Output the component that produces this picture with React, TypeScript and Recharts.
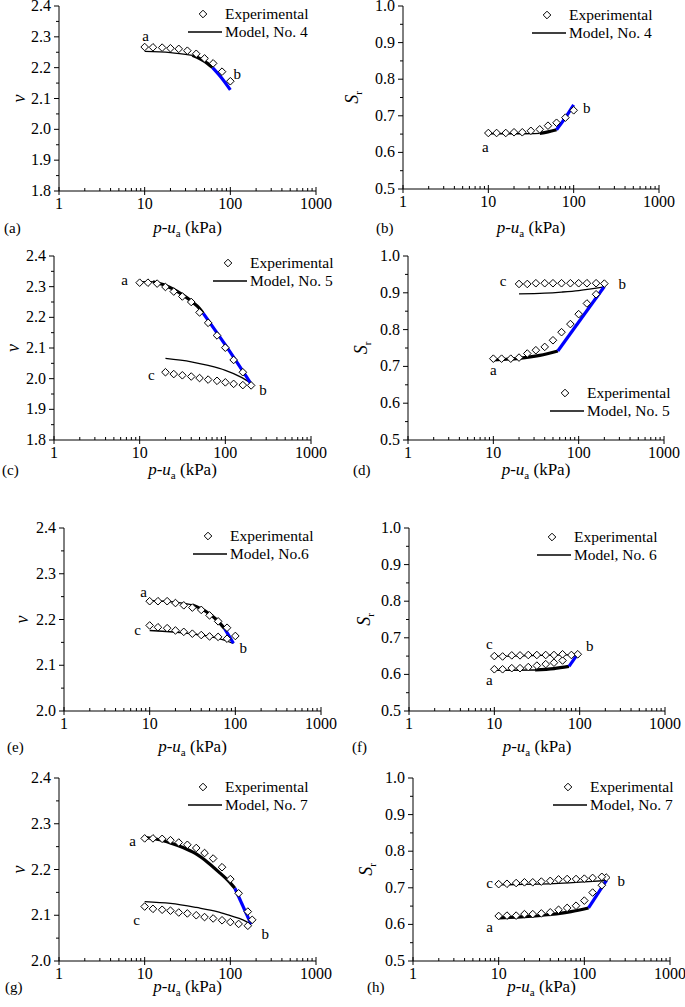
import React from 'react'
import { ComposedChart, Scatter, Line, XAxis, YAxis, Legend } from 'recharts'

const FONT = "'Times New Roman', 'Liberation Serif', Tinos, 'DejaVu Serif', serif"
const BLUE = '#0000ff'
const YW = 40
const XH = 20

// applied net stress levels (kPa)
const P_A = [10, 12.5, 16, 20, 25, 31.5, 40, 50, 63, 80, 100]
const P_C = [10, 12.5, 16, 20, 25, 31.5, 40, 50, 63, 80, 100, 125, 160, 200]
const P_C_UNL = [20, 25, 31.5, 40, 50, 63, 80, 100, 125, 160]
const P_E_UNL = [10, 12.5, 16, 20, 25, 31.5, 40, 50, 63, 80]
const P_F_LOAD = [10, 12.5, 16, 20, 25, 31.5, 40, 50, 63]
const P_F_UNL = [10, 12.5, 16, 20, 25, 31.5, 40, 50, 63, 80, 95]
const P_G_LOAD = [10, 12.5, 16, 20, 25, 31.5, 40, 50, 63, 80, 100, 125, 160, 180]
const P_G_UNL = [10, 12.5, 16, 20, 25, 31.5, 40, 50, 63, 80, 100, 125, 160]

// (a) No. 4, specific volume
const aExp = [2.267, 2.266, 2.265, 2.263, 2.261, 2.255, 2.245, 2.23, 2.214, 2.187, 2.156]
const aThin = [[10, 2.253], [20, 2.249], [36, 2.24]]
const aThick = [[36, 2.24], [45, 2.228], [54, 2.214], [62, 2.2]]
const aBlue = [[62, 2.2], [80, 2.165], [100, 2.128]]

// (b) No. 4, degree of saturation
const bExp = [0.653, 0.653, 0.653, 0.655, 0.655, 0.659, 0.663, 0.673, 0.681, 0.695, 0.715]
const bThin = [[10, 0.651], [25, 0.651], [40, 0.652]]
const bThick = [[40, 0.652], [50, 0.656], [63, 0.662]]
const bBlue = [[63, 0.662], [80, 0.695], [100, 0.73]]

// (c) No. 5, specific volume
const cExpLoad = [2.313, 2.313, 2.31, 2.299, 2.284, 2.268, 2.25, 2.216, 2.182, 2.141, 2.101, 2.061, 2.021, 1.978]
const cExpUnl = [2.021, 2.015, 2.011, 2.007, 2.002, 1.997, 1.993, 1.988, 1.983, 1.979]
const cThin = [[10, 2.316], [14.3, 2.316]]
const cThick = [[14.3, 2.316], [20, 2.304], [25, 2.291], [31.5, 2.274], [40, 2.253], [50, 2.229], [55.3, 2.213]]
const cBlue = [[55.3, 2.213], [100, 2.11], [200, 1.983]]
const cUnl = [[20, 2.066], [40, 2.055], [63, 2.043], [100, 2.027], [150, 2.006], [200, 1.985]]

// (d) No. 5, degree of saturation
const dExpLoad = [0.721, 0.721, 0.721, 0.724, 0.735, 0.744, 0.753, 0.771, 0.793, 0.815, 0.842, 0.871, 0.896, 0.925]
const dExpUnl = [0.924, 0.924, 0.926, 0.926, 0.926, 0.926, 0.926, 0.926, 0.926, 0.926]
const dThick = [[10, 0.718], [20, 0.722], [35, 0.73], [57, 0.742]]
const dBlue = [[57, 0.742], [200, 0.917]]
const dUnl = [[20, 0.897], [40, 0.899], [63, 0.902], [100, 0.906], [200, 0.916]]

// (e) No. 6, specific volume
const eExpLoad = [2.24, 2.24, 2.24, 2.236, 2.231, 2.226, 2.221, 2.209, 2.196, 2.182, 2.164]
const eExpUnl = [2.187, 2.183, 2.181, 2.176, 2.173, 2.169, 2.166, 2.163, 2.162, 2.158]
const eThin = [[10, 2.241], [20, 2.238], [31.5, 2.232]]
const eThick = [[31.5, 2.232], [45, 2.218], [60, 2.2], [75, 2.18]]
const eBlue = [[75, 2.18], [95, 2.148]]
const eUnl = [[10, 2.176], [30, 2.169], [60, 2.16], [95, 2.148]]

// (f) No. 6, degree of saturation
const fExpLoad = [0.614, 0.614, 0.617, 0.617, 0.62, 0.624, 0.628, 0.632, 0.638]
const fExpUnl = [0.65, 0.649, 0.652, 0.652, 0.653, 0.653, 0.653, 0.653, 0.655, 0.653, 0.655]
const fThin = [[10, 0.611], [30, 0.612]]
const fThick = [[30, 0.612], [50, 0.616], [75, 0.622]]
const fBlue = [[75, 0.622], [95, 0.656]]
const fUnl = [[10, 0.649], [95, 0.654]]

// (g) No. 7, specific volume
const gExpLoad = [2.268, 2.268, 2.267, 2.264, 2.259, 2.254, 2.247, 2.236, 2.224, 2.205, 2.179, 2.148, 2.108, 2.09]
const gExpUnl = [2.119, 2.114, 2.112, 2.11, 2.106, 2.104, 2.1, 2.096, 2.093, 2.089, 2.085, 2.081, 2.077]
const gThick = [[10, 2.27], [15, 2.265], [20, 2.258], [28, 2.248], [39, 2.235], [55, 2.215], [76, 2.192], [95, 2.175], [113, 2.159]]
const gBlue = [[113, 2.159], [175, 2.08]]
const gUnl = [[10, 2.13], [20, 2.126], [40, 2.117], [70, 2.108], [100, 2.099], [140, 2.09], [175, 2.08]]

// (h) No. 7, degree of saturation
const hExpLoad = [0.623, 0.624, 0.624, 0.628, 0.628, 0.63, 0.633, 0.64, 0.645, 0.651, 0.665, 0.687, 0.707, 0.728]
const hExpUnl = [0.71, 0.711, 0.713, 0.715, 0.715, 0.717, 0.719, 0.723, 0.724, 0.724, 0.725, 0.727, 0.73]
const hThick = [[10, 0.618], [20, 0.621], [40, 0.627], [70, 0.635], [112, 0.645]]
const hBlue = [[112, 0.645], [182, 0.721]]
const hUnl = [[10, 0.708], [50, 0.712], [100, 0.716], [182, 0.72]]

const X_MAJOR = [1, 10, 100, 1000]
const X_TICKS = [1, 2, 3, 4, 5, 6, 7, 8, 9, 10, 20, 30, 40, 50, 60, 70, 80, 90, 100, 200, 300, 400, 500, 600, 700, 800, 900, 1000]
const V_TICKS_WIDE = [1.8, 1.9, 2.0, 2.1, 2.2, 2.3, 2.4]
const V_TICKS_NARROW = [2.0, 2.1, 2.2, 2.3, 2.4]
const S_TICKS = [0.5, 0.6, 0.7, 0.8, 0.9, 1.0]

const xy = (xs: number[], ys: number[]) => xs.map((x, i) => ({ x, y: ys[i] }))
const pairs = (p: number[][]) => p.map(([x, y]) => ({ x, y }))

const PANELS = [
  {
    id: 'a', cell: { x: 0, y: 0, w: 340, h: 240 }, plot: { x: 59, y: 6, w: 257, h: 185 },
    yTicks: V_TICKS_WIDE, yTitle: 'v', yTitleX: 20, xTitleY: 228, letterX: 4,
    legend: { x: 188, y: 5, text: 'Model, No. 4' },
    exp: [xy(P_A, aExp)], thin: [aThin], thick: [aThick], blue: [aBlue],
    notes: [{ t: 'a', x: 10, y: 2.267, dx: 1, dy: -11 }, { t: 'b', x: 100, y: 2.156, dx: 7, dy: -7 }],
  },
  {
    id: 'b', cell: { x: 340, y: 0, w: 345, h: 240 }, plot: { x: 403, y: 6, w: 256, h: 183 },
    yTicks: S_TICKS, yTitle: 'S', yTitleX: 353, xTitleY: 228, letterX: 376,
    legend: { x: 532, y: 6, text: 'Model, No. 4' },
    exp: [xy(P_A, bExp)], thin: [bThin], thick: [bThick], blue: [bBlue],
    notes: [{ t: 'a', x: 10, y: 0.653, dx: -3, dy: 14 }, { t: 'b', x: 100, y: 0.715, dx: 13, dy: -2 }],
  },
  {
    id: 'c', cell: { x: 0, y: 240, w: 340, h: 245 }, plot: { x: 54, y: 256, w: 257, h: 184 },
    yTicks: V_TICKS_WIDE, yTitle: 'v', yTitleX: 14, xTitleY: 470, letterX: 2,
    legend: { x: 213, y: 254, text: 'Model, No. 5' },
    exp: [xy(P_C, cExpLoad), xy(P_C_UNL, cExpUnl)], thin: [cThin, cUnl], thick: [cThick], blue: [cBlue],
    notes: [
      { t: 'a', x: 10, y: 2.313, dx: -15, dy: -3 },
      { t: 'b', x: 200, y: 1.978, dx: 12, dy: 5 },
      { t: 'c', x: 20, y: 2.021, dx: -14, dy: 3 },
    ],
  },
  {
    id: 'd', cell: { x: 340, y: 240, w: 345, h: 245 }, plot: { x: 408, y: 256, w: 256, h: 184 },
    yTicks: S_TICKS, yTitle: 'S', yTitleX: 362, xTitleY: 470, letterX: 353,
    legend: { x: 550, y: 384, text: 'Model, No. 5' },
    exp: [xy(P_C, dExpLoad), xy(P_C_UNL, dExpUnl)], thin: [dUnl], thick: [dThick], blue: [dBlue],
    notes: [
      { t: 'a', x: 10, y: 0.721, dx: 0, dy: 11 },
      { t: 'b', x: 200, y: 0.925, dx: 18, dy: 0 },
      { t: 'c', x: 20, y: 0.924, dx: -16, dy: -3 },
    ],
  },
  {
    id: 'e', cell: { x: 0, y: 485, w: 340, h: 280 }, plot: { x: 64, y: 528, w: 257, h: 183 },
    yTicks: V_TICKS_NARROW, yTitle: 'v', yTitleX: 23, xTitleY: 747, letterX: 7,
    legend: { x: 193, y: 527, text: 'Model, No.6' },
    exp: [xy(P_A, eExpLoad), xy(P_E_UNL, eExpUnl)], thin: [eThin, eUnl], thick: [eThick], blue: [eBlue],
    notes: [
      { t: 'a', x: 10, y: 2.24, dx: -6, dy: -9 },
      { t: 'b', x: 100, y: 2.162, dx: 8, dy: 11 },
      { t: 'c', x: 10, y: 2.187, dx: -12, dy: 5 },
    ],
  },
  {
    id: 'f', cell: { x: 340, y: 485, w: 345, h: 280 }, plot: { x: 409, y: 528, w: 256, h: 183 },
    yTicks: S_TICKS, yTitle: 'S', yTitleX: 365, xTitleY: 747, letterX: 352,
    legend: { x: 537, y: 528, text: 'Model, No. 6' },
    exp: [xy(P_F_LOAD, fExpLoad), xy(P_F_UNL, fExpUnl)], thin: [fThin, fUnl], thick: [fThick], blue: [fBlue],
    notes: [
      { t: 'a', x: 10, y: 0.614, dx: -5, dy: 11 },
      { t: 'b', x: 95, y: 0.655, dx: 12, dy: -8 },
      { t: 'c', x: 10, y: 0.65, dx: -5, dy: -12 },
    ],
  },
  {
    id: 'g', cell: { x: 0, y: 755, w: 340, h: 252 }, plot: { x: 59, y: 778, w: 257, h: 183 },
    yTicks: V_TICKS_NARROW, yTitle: 'v', yTitleX: 20, xTitleY: 987, letterX: 5,
    legend: { x: 188, y: 778, text: 'Model, No. 7' },
    exp: [xy(P_G_LOAD, gExpLoad), xy(P_G_UNL, gExpUnl)], thin: [gUnl], thick: [gThick], blue: [gBlue],
    notes: [
      { t: 'a', x: 10, y: 2.268, dx: -12, dy: 3 },
      { t: 'b', x: 180, y: 2.09, dx: 13, dy: 14 },
      { t: 'c', x: 10, y: 2.119, dx: -8, dy: 13 },
    ],
  },
  {
    id: 'h', cell: { x: 340, y: 755, w: 345, h: 252 }, plot: { x: 413, y: 778, w: 257, h: 183 },
    yTicks: S_TICKS, yTitle: 'S', yTitleX: 367, xTitleY: 987, letterX: 367,
    legend: { x: 553, y: 778, text: 'Model, No. 7' },
    exp: [xy(P_G_LOAD, hExpLoad), xy(P_G_UNL, hExpUnl)], thin: [hUnl], thick: [hThick], blue: [hBlue],
    notes: [
      { t: 'a', x: 10, y: 0.623, dx: -9, dy: 11 },
      { t: 'b', x: 180, y: 0.728, dx: 15, dy: 3 },
      { t: 'c', x: 10, y: 0.71, dx: -9, dy: -1 },
    ],
  },
]

const Diamond = (p: any) => {
  const { cx, cy } = p
  if (cx == null || cy == null) return <g />
  const r = 3.8
  return (
    <polygon
      points={`${cx},${cy - r} ${cx + r},${cy} ${cx},${cy + r} ${cx - r},${cy}`}
      fill="#fff"
      stroke="#000"
      strokeWidth={1}
    />
  )
}

const NoteText = (p: any) => {
  const d = p.payload || p
  if (p.cx == null) return <g />
  return (
    <text x={p.cx + d.dx} y={p.cy + d.dy + 5} textAnchor="middle" fontFamily={FONT} fontSize={15} fill="#000">
      {d.t}
    </text>
  )
}

const XTick = (p: any) => {
  const { x, y, payload } = p
  const v = payload.value
  const major = X_MAJOR.includes(v)
  return (
    <g>
      <line x1={x} x2={x} y1={major ? y - 4 : y - 3} y2={major ? y + 4 : y} stroke="#000" strokeWidth={1} />
      {major && (
        <text x={x} y={y + 18} textAnchor="middle" fontFamily={FONT} fontSize={16} fill="#000">
          {v}
        </text>
      )}
    </g>
  )
}

const YTick = (p: any, majors: number[]) => {
  const { x, y, payload } = p
  const v = payload.value
  const major = majors.some((m) => Math.abs(m - v) < 1e-6)
  return (
    <g>
      <line x1={x} x2={x - (major ? 5 : 3)} y1={y} y2={y} stroke="#000" strokeWidth={1} />
      {major && (
        <text x={x - 8} y={y + 5} textAnchor="end" fontFamily={FONT} fontSize={16} fill="#000">
          {v.toFixed(1)}
        </text>
      )}
    </g>
  )
}

function LegendBox({ text }: { text: string }) {
  const row = { display: 'flex', alignItems: 'center', height: 18, whiteSpace: 'nowrap' as const }
  return (
    <div style={{ fontFamily: FONT, fontSize: 15.5, color: '#000', lineHeight: '18px' }}>
      <div style={row}>
        <svg width={34} height={18}>
          <polygon points="15,5.2 18.8,9 15,12.8 11.2,9" fill="#fff" stroke="#000" strokeWidth={1} />
        </svg>
        <span style={{ marginLeft: 3 }}>Experimental</span>
      </div>
      <div style={row}>
        <svg width={34} height={18}>
          <line x1={0} x2={34} y1={9} y2={9} stroke="#000" strokeWidth={1.6} />
        </svg>
        <span style={{ marginLeft: 3 }}>{text}</span>
      </div>
    </div>
  )
}

function Panel({ cfg }: { cfg: any }) {
  const { cell, plot } = cfg
  const margin = {
    top: plot.y - cell.y,
    left: plot.x - cell.x - YW,
    right: cell.x + cell.w - plot.x - plot.w,
    bottom: cell.y + cell.h - plot.y - plot.h - XH,
  }
  const yMajor: number[] = cfg.yTicks
  const yAll = [...yMajor, ...yMajor.slice(0, -1).map((m) => +(m + 0.05).toFixed(2))].sort((a, b) => a - b)
  const yDomain = [yMajor[0], yMajor[yMajor.length - 1]]

  // text positions inside the chart's svg
  const cxPlot = plot.x - cell.x + plot.w / 2
  const xTitleBase = cfg.xTitleY - cell.y + 5
  const yTitleX = cfg.yTitleX - cell.x + 5
  const yTitleY = plot.y - cell.y + plot.h / 2

  const titles = () => (
    <g fontFamily={FONT} fill="#000">
      <text x={cxPlot} y={xTitleBase} textAnchor="middle" fontSize={17}>
        <tspan fontStyle="italic">p</tspan>
        <tspan>-</tspan>
        <tspan fontStyle="italic">u</tspan>
        <tspan fontSize={11} dy={4}>a</tspan>
        <tspan dy={-4}> (kPa)</tspan>
      </text>
      <text x={cfg.letterX - cell.x} y={xTitleBase} fontSize={15}>
        ({cfg.id})
      </text>
      <text
        x={yTitleX}
        y={yTitleY}
        textAnchor="middle"
        fontSize={18}
        transform={`rotate(-90 ${yTitleX} ${yTitleY})`}
      >
        <tspan fontStyle="italic">{cfg.yTitle}</tspan>
        {cfg.yTitle === 'S' && (
          <tspan fontSize={11} dy={4}>
            r
          </tspan>
        )}
      </text>
    </g>
  )

  return (
    <div style={{ position: 'absolute', left: cell.x, top: cell.y }}>
      <ComposedChart width={cell.w} height={cell.h} margin={margin} style={{ overflow: 'visible' }}>
        <XAxis
          type="number"
          dataKey="x"
          scale="log"
          domain={[1, 1000]}
          allowDataOverflow
          ticks={X_TICKS}
          interval={0}
          tickSize={0}
          tickMargin={0}
          tickLine={false}
          axisLine={{ stroke: '#000', strokeWidth: 1 }}
          height={XH}
          tick={(p: any) => <XTick {...p} />}
          label={titles}
        />
        <YAxis
          type="number"
          dataKey="y"
          domain={yDomain}
          allowDataOverflow
          ticks={yAll}
          interval={0}
          tickSize={0}
          tickMargin={0}
          tickLine={false}
          axisLine={{ stroke: '#000', strokeWidth: 1 }}
          width={YW}
          tick={(p: any) => YTick(p, yMajor)}
        />
        <Legend
          layout="vertical"
          align="center"
          verticalAlign="middle"
          wrapperStyle={{
            left: cfg.legend.x - cell.x,
            top: cfg.legend.y - cell.y,
            width: 'auto',
            height: 'auto',
          }}
          content={() => <LegendBox text={cfg.legend.text} />}
        />
        {cfg.exp.map((d: any[], i: number) => (
          <Scatter key={`exp-${i}`} data={d} shape={Diamond} isAnimationActive={false} legendType="none" />
        ))}
        {cfg.thin.map((d: number[][], i: number) => (
          <Line
            key={`thin-${i}`}
            data={pairs(d)}
            dataKey="y"
            type="monotone"
            stroke="#000"
            strokeWidth={1.3}
            dot={false}
            activeDot={false}
            isAnimationActive={false}
            legendType="none"
          />
        ))}
        {cfg.thick.map((d: number[][], i: number) => (
          <Line
            key={`thick-${i}`}
            data={pairs(d)}
            dataKey="y"
            type="monotone"
            stroke="#000"
            strokeWidth={3.2}
            dot={false}
            activeDot={false}
            isAnimationActive={false}
            legendType="none"
          />
        ))}
        {cfg.blue.map((d: number[][], i: number) => (
          <Line
            key={`blue-${i}`}
            data={pairs(d)}
            dataKey="y"
            type="monotone"
            stroke={BLUE}
            strokeWidth={3.2}
            dot={false}
            activeDot={false}
            isAnimationActive={false}
            legendType="none"
          />
        ))}
        <Scatter data={cfg.notes} shape={NoteText} isAnimationActive={false} legendType="none" />
      </ComposedChart>
    </div>
  )
}

export default function App() {
  return (
    <div style={{ position: 'absolute', left: 0, top: 0, width: 685, height: 1007, background: '#fff' }}>
      {PANELS.map((cfg) => (
        <Panel key={cfg.id} cfg={cfg} />
      ))}
    </div>
  )
}
